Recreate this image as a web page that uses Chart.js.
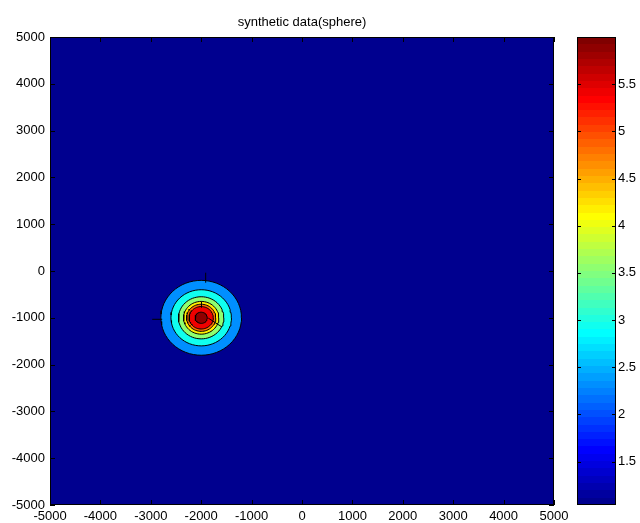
<!DOCTYPE html>
<html>
<head>
<meta charset="utf-8">
<title>synthetic data(sphere)</title>
<script src="https://cdn.jsdelivr.net/npm/chart.js@4.4.1/dist/chart.umd.min.js"></script>
<style>
  html, body { margin: 0; padding: 0; background: #fff; }
  #wrap { position: relative; width: 640px; height: 523px; }
  canvas { position: absolute; top: 0; }
  #field { left: 0; }
  #colorbar { left: 560px; }
</style>
</head>
<body>
<div id="wrap">
  <canvas id="field" width="640" height="523"></canvas>
  <canvas id="colorbar" width="80" height="523"></canvas>
</div>
<script>
// axis ticks
const xTicks = [-5000, -4000, -3000, -2000, -1000, 0, 1000, 2000, 3000, 4000, 5000];
const yTicks = [-5000, -4000, -3000, -2000, -1000, 0, 1000, 2000, 3000, 4000, 5000];
const barTicks = [1.5, 2, 2.5, 3, 3.5, 4, 4.5, 5, 5.5];

// colour limits of the anomaly (min / max)
const colorLimits = [1.04, 6.0];

// sphere anomaly: centre and contour rings (level -> radius in m)
const sphereCenter = [-2000, -1000];
const contourLevels = [2.28, 2.90, 3.52, 4.14, 4.76, 5.38, 5.9];
const contourRadii = [800, 600, 450, 350, 290, 240, 120];

// clabel markers
const markX = [-1911, -2873, -1994, -1726];
const markY = [-143, -1032, -720, -1100];
const markAngle = [90, 0, 90, 33];
const markSize = [5, 5, 3, 8];

const tickFont = { family: "'Liberation Sans Narrow', 'Liberation Sans', Arial, sans-serif", size: 13 };

// matlab jet(64)
function jet64(i) {
  const u = k => (k < 1 || k > 47) ? 0 : (k <= 16 ? k / 16 : (k <= 31 ? 1 : (48 - k) / 16));
  const row = i + 1;
  const r = Math.round(u(row - 24) * 255);
  const g = Math.round(u(row - 8) * 255);
  const b = Math.round(u(row + 8) * 255);
  return `rgb(${r},${g},${b})`;
}

function levelColor(v) {
  const f = (v - colorLimits[0]) / (colorLimits[1] - colorLimits[0]);
  const idx = Math.min(63, Math.max(0, Math.floor(f * 64 + 1e-9)));
  return jet64(idx);
}

// closed outline of a ring around the sphere centre
function ringPoints(r) {
  const pts = [];
  for (let i = 0; i <= 64; i++) {
    const a = i / 64 * Math.PI * 2;
    pts.push({ x: sphereCenter[0] + r * Math.cos(a), y: sphereCenter[1] + r * Math.sin(a) });
  }
  return pts;
}

// box + inward ticks like a matlab axes
const matlabFrame = {
  id: 'matlabFrame',
  beforeDatasetsDraw(chart, args, opts) {
    if (!opts.fill) return;
    const { ctx, chartArea: a } = chart;
    ctx.save();
    ctx.fillStyle = opts.fill;
    ctx.fillRect(a.left, a.top, a.right - a.left, a.bottom - a.top);
    ctx.restore();
  },
  afterDatasetsDraw(chart, args, opts) {
    const { ctx, chartArea: a, scales } = chart;
    const len = opts.tickLength || 5;
    ctx.save();
    ctx.strokeStyle = '#000';
    ctx.lineWidth = 1;
    ctx.beginPath();
    if (scales.x && scales.x.options.display !== false) {
      scales.x.ticks.forEach(t => {
        const px = Math.round(scales.x.getPixelForValue(t.value)) + 0.5;
        ctx.moveTo(px, a.top); ctx.lineTo(px, a.top + len);
        ctx.moveTo(px, a.bottom); ctx.lineTo(px, a.bottom - len);
      });
    }
    scales.y.ticks.forEach(t => {
      const py = Math.round(scales.y.getPixelForValue(t.value)) + 0.5;
      ctx.moveTo(a.left, py); ctx.lineTo(a.left + len, py);
      ctx.moveTo(a.right, py); ctx.lineTo(a.right - len, py);
    });
    ctx.stroke();
    ctx.strokeRect(a.left + 0.5, a.top + 0.5, a.right - a.left - 1, a.bottom - a.top - 1);
    ctx.restore();
  }
};

const ringSets = contourLevels.map((lvl, i) => ({
  data: ringPoints(contourRadii[i]),
  showLine: true,
  fill: 'shape',
  backgroundColor: levelColor(lvl),
  borderColor: '#000',
  borderWidth: 1,
  pointRadius: 0,
  tension: 0,
  order: contourLevels.length - i + 1
}));

const markSet = {
  data: markX.map((x, i) => ({ x, y: markY[i] })),
  showLine: false,
  pointStyle: 'line',
  pointRotation: markAngle,
  pointRadius: markSize,
  borderColor: '#000',
  borderWidth: 1,
  order: 0
};

new Chart(document.getElementById('field'), {
  type: 'scatter',
  data: { datasets: [...ringSets, markSet] },
  options: {
    responsive: false,
    animation: false,
    devicePixelRatio: 1,
    layout: { padding: { left: 0, right: 86, top: 0, bottom: 0 } },
    plugins: {
      legend: { display: false },
      tooltip: { enabled: false },
      title: {
        display: true,
        fullSize: false,
        text: 'synthetic data(sphere)',
        color: '#000',
        font: { family: "'Liberation Sans', Arial, sans-serif", size: 13, weight: 'normal', lineHeight: 1.2 },
        padding: { top: 15, bottom: 6.4 }
      },
      matlabFrame: { fill: jet64(0), tickLength: 5 }
    },
    scales: {
      x: {
        type: 'linear',
        min: xTicks[0],
        max: xTicks[xTicks.length - 1],
        afterBuildTicks: s => { s.ticks = xTicks.map(v => ({ value: v })); },
        afterFit: s => { s.height = 18; },
        grid: { display: false, drawTicks: false },
        border: { display: false },
        ticks: { color: '#000', font: tickFont, padding: 4, maxRotation: 0, autoSkip: false, callback: v => String(v) }
      },
      y: {
        type: 'linear',
        min: yTicks[0],
        max: yTicks[yTicks.length - 1],
        afterBuildTicks: s => { s.ticks = yTicks.map(v => ({ value: v })); },
        afterFit: s => { s.width = 50; },
        grid: { display: false, drawTicks: false },
        border: { display: false },
        ticks: { color: '#000', font: tickFont, padding: 5, autoSkip: false, callback: v => String(v) }
      }
    }
  },
  plugins: [matlabFrame]
});

// stepped jet gradient along the colour bar scale
function barGradient(c) {
  const chart = c.chart;
  if (!chart.chartArea) return 'transparent';
  const y = chart.scales.y;
  const y0 = y.getPixelForValue(colorLimits[0]);
  const y1 = y.getPixelForValue(colorLimits[1]);
  const g = chart.ctx.createLinearGradient(0, y0, 0, y1);
  for (let i = 0; i < 64; i++) {
    g.addColorStop(i / 64, jet64(i));
    g.addColorStop((i + 1) / 64, jet64(i));
  }
  return g;
}

new Chart(document.getElementById('colorbar'), {
  type: 'bar',
  data: {
    labels: [''],
    datasets: [{
      data: [colorLimits],
      backgroundColor: barGradient,
      borderWidth: 0,
      barPercentage: 1,
      categoryPercentage: 1
    }]
  },
  options: {
    responsive: false,
    animation: false,
    devicePixelRatio: 1,
    layout: { padding: { left: 17, right: 0, top: 37, bottom: 18 } },
    plugins: {
      legend: { display: false },
      tooltip: { enabled: false },
      matlabFrame: { tickLength: 4 }
    },
    scales: {
      x: { display: false },
      y: {
        position: 'right',
        min: colorLimits[0],
        max: colorLimits[1],
        afterBuildTicks: s => { s.ticks = barTicks.map(v => ({ value: v })); },
        afterFit: s => { s.width = 24; },
        grid: { display: false, drawTicks: false },
        border: { display: false },
        ticks: { color: '#000', font: tickFont, padding: 2, autoSkip: false, callback: v => String(v) }
      }
    }
  },
  plugins: [matlabFrame]
});
</script>
</body>
</html>
